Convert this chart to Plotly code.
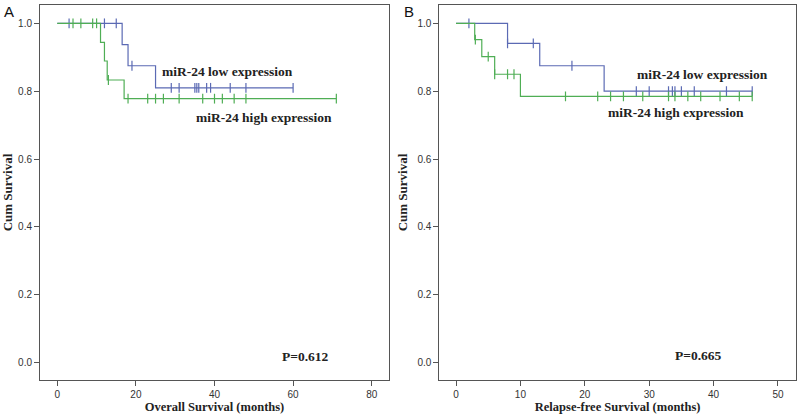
import plotly.graph_objects as go

# ---------------- data ----------------
# Panel A: Overall survival
a_low_drop_t = [16.5, 18, 25]
a_low_levels = [0.9375, 0.875, 0.81]
a_low_end = 60
a_low_cens = [3, 12, 15, 19, 29, 31, 35, 35.5, 36, 38, 39, 44, 48, 60]

a_high_drop_t = [11, 12, 12.7, 17]
a_high_levels = [0.944, 0.889, 0.833, 0.778]
a_high_end = 71
a_high_cens = [4, 6, 9, 10, 13, 18, 23, 25, 27, 31, 37, 40, 42, 45, 48, 71]

# Panel B: Relapse-free survival
b_low_drop_t = [8, 13, 23]
b_low_levels = [0.941, 0.875, 0.80]
b_low_end = 46
b_low_cens = [2, 8, 12, 18, 28, 30, 33, 33.6, 34, 35, 37, 42, 46]

b_high_drop_t = [2.9, 4, 6, 10]
b_high_levels = [0.952, 0.902, 0.85, 0.785]
b_high_end = 46
b_high_cens = [3, 5, 6, 8, 9, 17, 22, 24, 26, 29, 33, 34, 36, 38, 41, 44, 46]

y_ticks = [0.0, 0.2, 0.4, 0.6, 0.8, 1.0]
a_x_ticks = [0, 20, 40, 60, 80]
b_x_ticks = [0, 10, 20, 30, 40, 50]

BLUE = "#5b6ab4"
GREEN = "#4fae55"


def surv_at(t, drops, levels):
    s = 1.0
    for d, l in zip(drops, levels):
        if d <= t:
            s = l
    return s


fig = go.Figure()


def add_curve(drops, levels, end, cens, color, xa, ya):
    xs = [0] + list(drops) + [end]
    ys = [1.0] + list(levels) + [levels[-1]]
    fig.add_trace(go.Scatter(x=xs, y=ys, mode="lines", line=dict(color=color, width=1.2, shape="hv"),
                             xaxis=xa, yaxis=ya, showlegend=False, hoverinfo="skip"))
    fig.add_trace(go.Scatter(x=cens, y=[surv_at(t, drops, levels) for t in cens], mode="markers",
                             marker=dict(symbol="line-ns", size=7, line=dict(color=color, width=1.2)),
                             xaxis=xa, yaxis=ya, showlegend=False, hoverinfo="skip"))


add_curve(a_low_drop_t, a_low_levels, a_low_end, a_low_cens, BLUE, "x", "y")
add_curve(a_high_drop_t, a_high_levels, a_high_end, a_high_cens, GREEN, "x", "y")
add_curve(b_low_drop_t, b_low_levels, b_low_end, b_low_cens, BLUE, "x2", "y2")
add_curve(b_high_drop_t, b_high_levels, b_high_end, b_high_cens, GREEN, "x2", "y2")

W, H = 800, 417
ML, MR, MT, MB = 40, 4, 5, 37
PW = W - ML - MR
PH = H - MT - MB

tickfont = dict(family="Liberation Sans, Arial", size=10, color="#333")
titlefont = dict(family="Liberation Serif, Times New Roman", size=12.5, color="#222")
ytitlefont = dict(family="Liberation Serif, Times New Roman", size=13, color="#222")
common_ax = dict(showline=True, linecolor="#555", linewidth=1, mirror=True, ticks="outside",
                 ticklen=5, tickcolor="#555", showgrid=False, zeroline=False, tickfont=tickfont,
                 automargin=False)

fig.update_layout(
    width=W, height=H, margin=dict(l=ML, r=MR, t=MT, b=MB, autoexpand=False),
    paper_bgcolor="white", plot_bgcolor="white",
    xaxis=dict(domain=[0, (389 - ML) / PW], range=[-4.4, 84.4], tickvals=a_x_ticks,
               title=dict(text="<b>Overall Survival (months)</b>", font=titlefont, standoff=2),
               anchor="y", **common_ax),
    yaxis=dict(domain=[0, 1], range=[-0.051, 1.054], tickvals=y_ticks, tickformat=".1f",
               title=dict(text="<b>Cum Survival</b>", font=ytitlefont, standoff=6),
               anchor="x", **common_ax),
    xaxis2=dict(domain=[(439.3 - ML) / PW, 1], range=[-2.6, 52.8], tickvals=b_x_ticks,
                title=dict(text="<b>Relapse-free Survival (months)</b>", font=titlefont, standoff=2),
                anchor="y2", **common_ax),
    yaxis2=dict(domain=[0, 1], range=[-0.051, 1.054], tickvals=y_ticks, tickformat=".1f",
                title=dict(text="<b>Cum Survival</b>", font=ytitlefont, standoff=6),
                anchor="x2", **common_ax),
)

panel_labels = [(9, "A"), (409, "B")]
for px, t in panel_labels:
    fig.add_annotation(xref="paper", yref="paper", x=(px - ML) / PW, y=1 - (11 - MT) / PH,
                       xanchor="center", yanchor="middle",
                       text=t, showarrow=False,
                       font=dict(family="Liberation Sans, Arial", size=15, color="#111"))

annfont = dict(family="Liberation Serif, Times New Roman", size=13.5, color="#222")
texts = [
    ("x", "y", 43.3, 0.858, "<b>miR-24 low expression</b>"),
    ("x", "y", 52.5, 0.722, "<b>miR-24 high expression</b>"),
    ("x", "y", 63.2, 0.017, "<b>P=0.612</b>"),
    ("x2", "y2", 38.3, 0.850, "<b>miR-24 low expression</b>"),
    ("x2", "y2", 34.1, 0.738, "<b>miR-24 high expression</b>"),
    ("x2", "y2", 37.7, 0.02, "<b>P=0.665</b>"),
]
for xa, ya, x, y, t in texts:
    fig.add_annotation(xref=xa, yref=ya, x=x, y=y, text=t, showarrow=False, font=annfont,
                       xanchor="center", yanchor="middle")

fig.write_html("out.html", config={"displayModeBar": False},
               post_script="document.body.style.margin='0';document.body.style.padding='0';")
